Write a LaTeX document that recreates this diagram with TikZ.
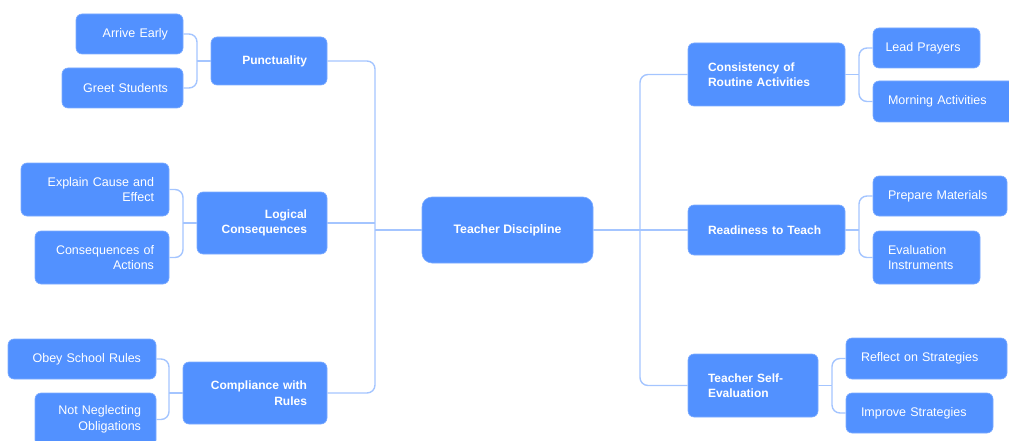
\documentclass[tikz,border=0pt]{standalone}
\usepackage{fontspec}
\setmainfont{Liberation Sans}
\definecolor{boxblue}{HTML}{5291FF}
\definecolor{linkblue}{HTML}{A4C5FF}
\begin{document}
\begin{tikzpicture}[x=1pt,y=-1pt,
  box/.style={fill=boxblue, draw=boxblue!75!white, line width=0.6pt, rounded corners=6pt,
    text=white, inner ysep=0pt},
  leaf/.style={box, font=\fontsize{12.5}{15.5}\selectfont, inner xsep=15pt},
  mainn/.style={box, font=\bfseries\fontsize{12}{15.5}\selectfont, inner xsep=20pt},
  conn/.style={draw=linkblue, line width=1.4pt, rounded corners=8pt}
]
\useasboundingbox (0,0) rectangle (1009,441);

% center
\node[box, font=\bfseries\fontsize{12.3}{15.5}\selectfont, rounded corners=10pt,
  minimum width=171pt, minimum height=66pt] (TD) at (507.5,230) {Teacher Discipline};

% left mains
\node[mainn, align=right, text width=76pt, minimum height=48pt] (PU) at (269,61) {Punctuality};
\node[mainn, align=right, text width=90pt, minimum height=62pt] (LC) at (262,223) {Logical\\Consequences};
\node[mainn, align=right, text width=104pt, minimum height=62pt] (CW) at (255,393) {Compliance with\\Rules};

% left leaves
\node[leaf, align=right, text width=77pt, minimum height=40pt] (AE) at (129.5,34) {Arrive Early};
\node[leaf, align=right, text width=91pt, minimum height=40pt] (GS) at (122.5,88) {Greet Students};
\node[leaf, align=right, text width=118pt, minimum height=53pt] (EC) at (95,189.5) {Explain Cause and\\Effect};
\node[leaf, align=right, text width=104pt, minimum height=53pt] (CA) at (102,257.5) {Consequences of\\Actions};
\node[leaf, align=right, text width=118pt, minimum height=40pt] (OS) at (82,359) {Obey School Rules};
\node[leaf, align=right, text width=91pt, minimum height=53pt] (NN) at (95.5,419.5) {Not Neglecting\\Obligations};

% right mains
\node[mainn, align=left, text width=117pt, minimum height=63pt] (CR) at (766.5,74.5) {Consistency of\\Routine Activities};
\node[mainn, align=left, text width=117pt, minimum height=50pt] (RT) at (766.5,230) {Readiness to Teach};
\node[mainn, align=left, text width=90pt, minimum height=63pt] (TS) at (753,385.5) {Teacher Self-\\Evaluation};

% right leaves
\node[leaf, align=left, text width=82pt, inner xsep=12.5pt, minimum height=40pt] (LP) at (926.5,48) {Lead Prayers};
\node[leaf, align=left, text width=117pt, minimum height=41pt] (MA) at (946.5,101.5) {Morning Activities};
\node[leaf, align=left, text width=104pt, minimum height=40pt] (PM) at (940,196) {Prepare Materials};
\node[leaf, align=left, text width=77pt, minimum height=53pt] (EI) at (926.5,257.5) {Evaluation\\Instruments};
\node[leaf, align=left, text width=131pt, minimum height=41pt] (RS) at (926.5,358.5) {Reflect on Strategies};
\node[leaf, align=left, text width=117pt, minimum height=40pt] (IS) at (919.5,413) {Improve Strategies};

% junctions
\coordinate (jL) at (375,230);
\coordinate (jR) at (640,230);
\coordinate (jP) at (197,61);
\coordinate (jLC) at (183,223);
\coordinate (jCW) at (169,393);
\coordinate (jCR) at (859,74.5);
\coordinate (jRT) at (859,230);
\coordinate (jTS) at (832,385.5);

% trunk left
\draw[conn] (TD.west) -- (jL);
\draw[conn] (jL) |- (PU.east);
\draw[conn] (jL) |- (CW.east);
\draw[conn] (LC.east) -- (LC.east -| jL);
% trunk right
\draw[conn] (TD.east) -- (jR) -- (RT.west);
\draw[conn] (jR) |- (CR.west);
\draw[conn] (jR) |- (TS.west);

% left leaves
\draw[conn] (PU.west) -- (jP);
\draw[conn] (jP) |- (AE.east);
\draw[conn] (jP) |- (GS.east);
\draw[conn] (LC.west) -- (jLC);
\draw[conn] (jLC) |- (EC.east);
\draw[conn] (jLC) |- (CA.east);
\draw[conn] (CW.west) -- (jCW);
\draw[conn] (jCW) |- (OS.east);
\draw[conn] (jCW) |- (NN.east);

% right leaves
\draw[conn] (CR.east) -- (jCR);
\draw[conn] (jCR) |- (LP.west);
\draw[conn] (jCR) |- (MA.west);
\draw[conn] (RT.east) -- (jRT);
\draw[conn] (jRT) |- (PM.west);
\draw[conn] (jRT) |- (EI.west);
\draw[conn] (TS.east) -- (jTS);
\draw[conn] (jTS) |- (RS.west);
\draw[conn] (jTS) |- (IS.west);
\end{tikzpicture}
\end{document}
